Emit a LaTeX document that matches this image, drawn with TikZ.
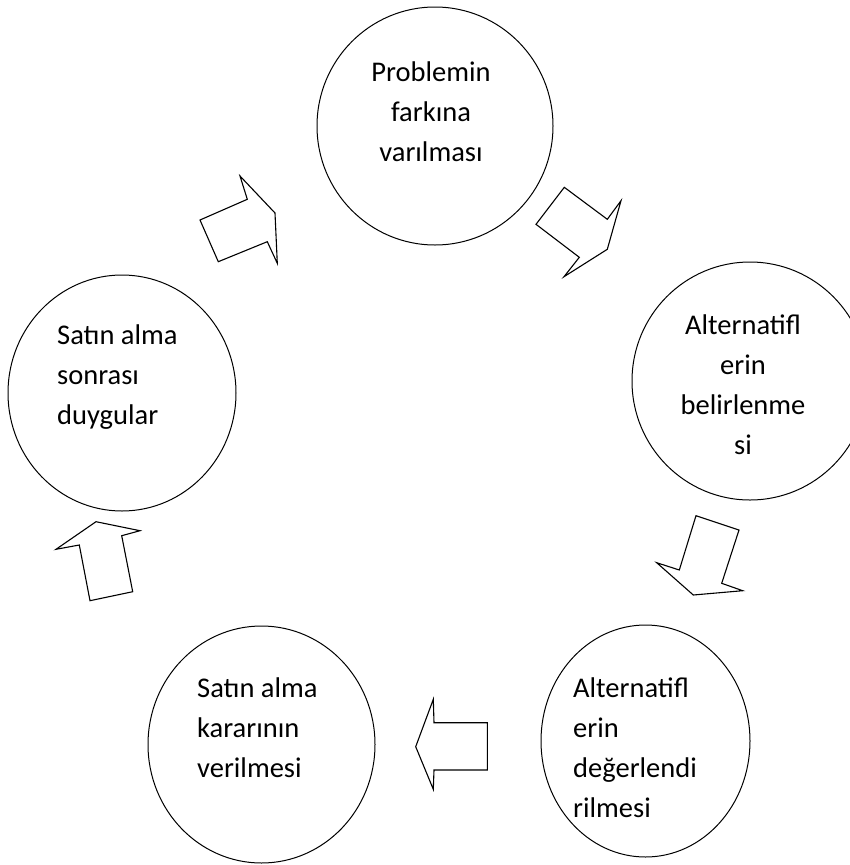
\documentclass[tikz,border=0pt]{standalone}
\usepackage{fontspec}
\setmainfont{Carlito}
\usetikzlibrary{shapes.geometric}

\begin{document}
\begin{tikzpicture}[x=1pt, y=-1pt, line join=miter,
  stage/.style={draw, ellipse, line width=1pt, inner sep=0pt},
  stagetext/.style={inner sep=0pt, font=\fontsize{28.5}{40}\selectfont},
  blockarrow/.style={draw, line width=1.1pt}]
\useasboundingbox (0,0) rectangle (850,865);
% the five stages
\node[stage, minimum width=236pt, minimum height=238pt] (prob) at (435,126) {};
\node[stage, minimum width=236pt, minimum height=238pt] (belir) at (750,381) {};
\node[stage, minimum width=209pt, minimum height=232pt] (deger) at (645.5,741) {};
\node[stage, minimum width=227pt, minimum height=237pt] (karar) at (261.5,744.5) {};
\node[stage, minimum width=228pt, minimum height=236pt] (duygu) at (122,393) {};
\node[stagetext, align=center, anchor=north] (probtext) at (431,62) {Problemin\\farkına\\varılması};
\node[stagetext, align=center, anchor=north] (belirtext) at (743,315) {Alternatifl\\erin\\belirlenme\\si};
\node[stagetext, align=left, anchor=north west] (degertext) at (573,678) {Alternatifl\\erin\\değerlendi\\rilmesi};
\node[stagetext, align=left, anchor=north west] (karartext) at (197,678) {Satın alma\\kararının\\verilmesi};
\node[stagetext, align=left, anchor=north west] (duygutext) at (57,325) {Satın alma\\sonrası\\duygular};
% block arrows between the stages
\draw[blockarrow] (247.3,199.3) -- (240,176) -- (275,213) -- (277.3,263.3) -- (267.3,241.7) -- (218.3,261.7) -- (200,220) -- cycle;
\draw[blockarrow] (564.3,187.3) -- (607.3,219.3) -- (621,200.7) -- (607.3,249.3) -- (564,276.7) -- (579.3,257.3) -- (536,224.3) -- cycle;
\draw[blockarrow] (696,515.7) -- (739,530) -- (721.7,583.3) -- (742.7,590.7) -- (693.3,595) -- (656.7,562.7) -- (679.3,570) -- cycle;
\draw[blockarrow] (487.3,722.7) -- (487.3,770) -- (434,770) -- (433.3,789.3) -- (415.7,746.7) -- (433.3,699.3) -- (434,722.7) -- cycle;
\draw[blockarrow] (90,600.7) -- (132.7,591.7) -- (121.7,535.7) -- (140,530.7) -- (96,521.7) -- (56,549.3) -- (79.3,545) -- cycle;
\end{tikzpicture}
\end{document}
